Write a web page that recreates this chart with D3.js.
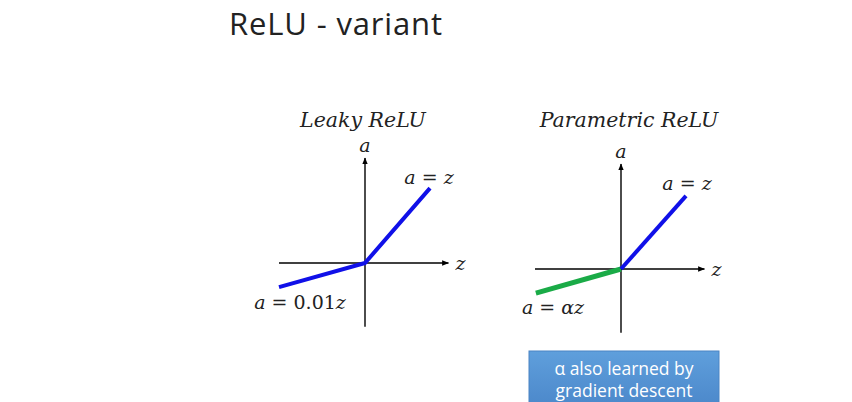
<!DOCTYPE html>
<html><head><meta charset="utf-8">
<script src="https://cdn.jsdelivr.net/npm/d3@7"></script>
<style>body{margin:0;background:#fff}svg{display:block}</style>
</head><body>
<script>
// Data (z, a) in chart units
const leakyLine = [[-1, -0.28], [0, 0], [0.756, 0.87]];
const paramNeg = [[-0.99, -0.28], [0, 0]];
const paramPos = [[0, 0], [0.756, 0.85]];
const panelTitles = ["Leaky ReLU", "Parametric ReLU"];
// label parts: [text, italic?]
const leakyLabels = [[["a", 1], [" = ", 0], ["z", 1]], [["a", 1], [" = ", 0], ["0.01", 0], ["z", 1]]];
const paramLabels = [[["a", 1], [" = ", 0], ["z", 1]], [["a", 1], [" = ", 0], ["αz", 1]]];
const axisExtent = { x: [-1, 0.97], y: [-0.74, 1.22] };
const noteLines = ["α also learned by", "gradient descent"];

const W = 852, H = 402;
const svg = d3.select("body").append("svg").attr("width", W).attr("height", H);

const defs = svg.append("defs");
defs.append("marker").attr("id", "arr").attr("viewBox", "0 0 10 10")
  .attr("refX", 9).attr("refY", 5).attr("markerWidth", 7).attr("markerHeight", 7)
  .attr("markerUnits", "userSpaceOnUse").attr("orient", "auto")
  .append("path").attr("d", "M0,1 L10,5 L0,9 Z").attr("fill", "#000");
const grad = defs.append("linearGradient").attr("id", "bg").attr("x1", 0).attr("y1", 0).attr("x2", 0).attr("y2", 1);
grad.append("stop").attr("offset", 0).attr("stop-color", "#5f9fdc");
grad.append("stop").attr("offset", 1).attr("stop-color", "#4a86c9");

svg.append("text").attr("x", 229).attr("y", 35)
  .attr("font-family", "Open Sans").attr("font-size", 31).attr("font-weight", 400)
  .attr("fill", "#222").attr("textLength", 213).text("ReLU - variant");

const serif = "DejaVu Serif";

function panel(ox, oy, title, titleX, lines, lab1, lab1pos, lab2, lab2pos) {
  const x = d3.scaleLinear().domain([-1, 1]).range([ox - 86, ox + 86]);
  const y = d3.scaleLinear().domain([-1, 1]).range([oy + 86, oy - 86]);
  const g = svg.append("g");
  g.append("text").attr("x", titleX).attr("y", 127).attr("text-anchor", "middle")
    .attr("font-family", serif).attr("font-style", "italic").attr("font-size", 20.5)
    .attr("fill", "#222").text(title);
  g.append("line").attr("x1", x(axisExtent.x[0])).attr("x2", x(axisExtent.x[1]))
    .attr("y1", y(0)).attr("y2", y(0)).attr("stroke", "#000").attr("stroke-width", 1.4)
    .attr("marker-end", "url(#arr)");
  g.append("line").attr("x1", x(0)).attr("x2", x(0))
    .attr("y1", y(axisExtent.y[0])).attr("y2", y(axisExtent.y[1])).attr("stroke", "#000")
    .attr("stroke-width", 1.4).attr("marker-end", "url(#arr)");
  const ln = d3.line().x(d => x(d[0])).y(d => y(d[1]));
  lines.forEach(l => g.append("path").attr("d", ln(l.data)).attr("fill", "none")
    .attr("stroke", l.color).attr("stroke-width", l.w).attr("stroke-linejoin", "round"));
  const tx = (parts, px, py, size) => {
    const t = g.append("text").attr("x", px).attr("y", py)
      .attr("text-anchor", "middle").attr("font-family", serif)
      .attr("font-size", size).attr("fill", "#222").attr("xml:space", "preserve");
    parts.forEach(p => t.append("tspan").attr("font-style", p[1] ? "italic" : "normal").text(p[0]));
  };
  tx([["a", 1]], x(0), y(axisExtent.y[1]) - 6, 19);
  tx([["z", 1]], x(axisExtent.x[1]) + 12, y(0) + 7, 19);
  tx(lab1, lab1pos[0], lab1pos[1], 19);
  tx(lab2, lab2pos[0], lab2pos[1], 19);
}

panel(365, 263, panelTitles[0], 363,
  [{ data: leakyLine, color: "#1010e8", w: 4 }],
  leakyLabels[0], [429, 184], leakyLabels[1], [300, 309]);
panel(621, 269, panelTitles[1], 629,
  [{ data: paramNeg, color: "#1aab47", w: 5 }, { data: paramPos, color: "#1010e8", w: 4 }],
  paramLabels[0], [687, 190], paramLabels[1], [553, 314]);

svg.append("rect").attr("x", 529).attr("y", 351).attr("width", 190).attr("height", 60)
  .attr("fill", "url(#bg)").attr("stroke", "#4a84c4").attr("stroke-width", 1);
svg.append("text").attr("x", 624).attr("y", 375).attr("text-anchor", "middle")
  .attr("font-family", "Open Sans").attr("font-size", 17.5).attr("fill", "#fff").text(noteLines[0]);
svg.append("text").attr("x", 624).attr("y", 397).attr("text-anchor", "middle")
  .attr("font-family", "Open Sans").attr("font-size", 17.5).attr("fill", "#fff").text(noteLines[1]);
</script>
</body></html>
